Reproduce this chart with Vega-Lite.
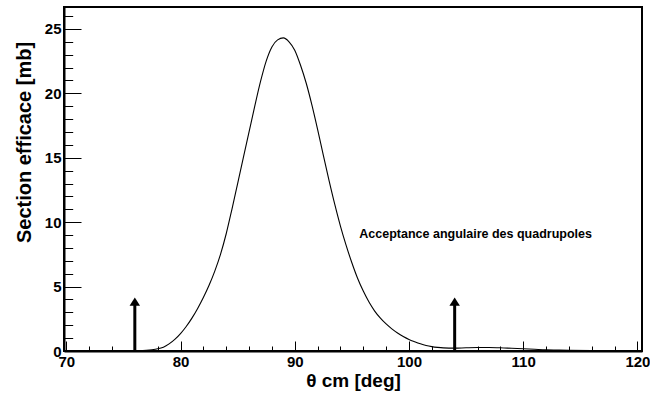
{
  "$schema": "https://vega.github.io/schema/vega-lite/v6.json",
  "width": 578,
  "height": 344,
  "autosize": {"type": "none"},
  "padding": {"left": 64, "top": 7, "right": 8, "bottom": 45},
  "background": "white",
  "config": {
    "view": {"stroke": "black", "strokeWidth": 2},
    "font": "Liberation Sans"
  },
  "datasets": {
    "curve": [
      {"theta": 74.0, "sigma": 0.0},
      {"theta": 75.0, "sigma": 0.01},
      {"theta": 76.0, "sigma": 0.03},
      {"theta": 77.0, "sigma": 0.06},
      {"theta": 77.5, "sigma": 0.1},
      {"theta": 78.0, "sigma": 0.17},
      {"theta": 78.5, "sigma": 0.3},
      {"theta": 79.0, "sigma": 0.55},
      {"theta": 79.5, "sigma": 0.9},
      {"theta": 80.0, "sigma": 1.35},
      {"theta": 80.5, "sigma": 1.9},
      {"theta": 81.0, "sigma": 2.55},
      {"theta": 81.5, "sigma": 3.3},
      {"theta": 82.0, "sigma": 4.15},
      {"theta": 82.5, "sigma": 5.1},
      {"theta": 83.0, "sigma": 6.2},
      {"theta": 83.5, "sigma": 7.5},
      {"theta": 84.0, "sigma": 9.1},
      {"theta": 84.5, "sigma": 11.0},
      {"theta": 85.0, "sigma": 13.0},
      {"theta": 85.5, "sigma": 15.0},
      {"theta": 86.0, "sigma": 17.0},
      {"theta": 86.5, "sigma": 19.0},
      {"theta": 87.0, "sigma": 20.9},
      {"theta": 87.5, "sigma": 22.5},
      {"theta": 88.0, "sigma": 23.6},
      {"theta": 88.5, "sigma": 24.15},
      {"theta": 89.0, "sigma": 24.3},
      {"theta": 89.5, "sigma": 24.0},
      {"theta": 90.0, "sigma": 23.35},
      {"theta": 90.5, "sigma": 22.2},
      {"theta": 91.0, "sigma": 20.8},
      {"theta": 91.5, "sigma": 19.1},
      {"theta": 92.0, "sigma": 17.2},
      {"theta": 92.5, "sigma": 15.2},
      {"theta": 93.0, "sigma": 13.25},
      {"theta": 93.5, "sigma": 11.4},
      {"theta": 94.0, "sigma": 9.7},
      {"theta": 94.5, "sigma": 8.2},
      {"theta": 95.0, "sigma": 6.85},
      {"theta": 95.5, "sigma": 5.65},
      {"theta": 96.0, "sigma": 4.65},
      {"theta": 96.5, "sigma": 3.8},
      {"theta": 97.0, "sigma": 3.1},
      {"theta": 97.5, "sigma": 2.55},
      {"theta": 98.0, "sigma": 2.1},
      {"theta": 98.5, "sigma": 1.72},
      {"theta": 99.0, "sigma": 1.4},
      {"theta": 99.5, "sigma": 1.13},
      {"theta": 100.0, "sigma": 0.9},
      {"theta": 100.5, "sigma": 0.72},
      {"theta": 101.0, "sigma": 0.56},
      {"theta": 101.5, "sigma": 0.43},
      {"theta": 102.0, "sigma": 0.34},
      {"theta": 102.5, "sigma": 0.28},
      {"theta": 103.0, "sigma": 0.24},
      {"theta": 104.0, "sigma": 0.22},
      {"theta": 105.0, "sigma": 0.25},
      {"theta": 106.0, "sigma": 0.27},
      {"theta": 107.0, "sigma": 0.27},
      {"theta": 108.0, "sigma": 0.25},
      {"theta": 109.0, "sigma": 0.21},
      {"theta": 110.0, "sigma": 0.17},
      {"theta": 111.0, "sigma": 0.13},
      {"theta": 112.0, "sigma": 0.09},
      {"theta": 113.0, "sigma": 0.07},
      {"theta": 114.0, "sigma": 0.05},
      {"theta": 116.0, "sigma": 0.03},
      {"theta": 118.0, "sigma": 0.02},
      {"theta": 120.0, "sigma": 0.0}
    ],
    "arrows": [
      {"theta": 76, "sigma": 0, "top": 3.6},
      {"theta": 104, "sigma": 0, "top": 3.6}
    ],
    "heads": [
      {"theta": 76, "sigma": 3.75},
      {"theta": 104, "sigma": 3.75}
    ],
    "note": [
      {"theta": 95.65, "sigma": 8.77, "text": "Acceptance angulaire des quadrupoles"}
    ]
  },
  "encoding": {
    "x": {
      "field": "theta",
      "type": "quantitative",
      "scale": {"domain": [69.8, 120.4], "nice": false, "zero": false},
      "axis": {
        "values": [70, 72, 74, 76, 78, 80, 82, 84, 86, 88, 90, 92, 94, 96, 98, 100, 102, 104, 106, 108, 110, 112, 114, 116, 118, 120],
        "labelExpr": "datum.value % 10 === 0 ? datum.label : ''",
        "tickSize": {"condition": {"test": "datum.value % 10 === 0", "value": -10}, "value": -5},
        "tickColor": "black",
        "tickWidth": 1,
        "domainColor": "black",
        "domainWidth": 2,
        "grid": false,
        "labelFont": "Liberation Sans",
        "labelFontWeight": "bold",
        "labelFontSize": 15,
        "labelColor": "black",
        "labelPadding": 13,
        "labelFlush": false,
        "labelOverlap": false,
        "labelBound": false,
        "title": "θ cm [deg]",
        "titleFont": "Liberation Sans",
        "titleFontSize": 19,
        "titleFontWeight": "bold",
        "titleColor": "black",
        "titleX": 289,
        "titleY": 35,
        "titleAlign": "center",
        "titleBaseline": "alphabetic"
      }
    },
    "y": {
      "field": "sigma",
      "type": "quantitative",
      "scale": {"domain": [0, 26.7], "nice": false},
      "axis": {
        "values": [0, 1, 2, 3, 4, 5, 6, 7, 8, 9, 10, 11, 12, 13, 14, 15, 16, 17, 18, 19, 20, 21, 22, 23, 24, 25, 26],
        "labelExpr": "datum.value % 5 === 0 ? datum.label : ''",
        "tickSize": {"condition": {"test": "datum.value % 5 === 0", "value": -17}, "value": -8.7},
        "tickColor": "black",
        "tickWidth": 1,
        "domainColor": "black",
        "domainWidth": 2,
        "grid": false,
        "labelFont": "Liberation Sans",
        "labelFontWeight": "bold",
        "labelFontSize": 15,
        "labelColor": "black",
        "labelPadding": 20,
        "labelFlush": false,
        "labelOverlap": false,
        "labelBound": false,
        "title": "Section efficace [mb]",
        "titleFont": "Liberation Sans",
        "titleFontSize": 20,
        "titleFontWeight": "bold",
        "titleColor": "black",
        "titleAngle": -90,
        "titleX": -34,
        "titleY": 135,
        "titleAlign": "center",
        "titleBaseline": "alphabetic"
      }
    }
  },
  "layer": [
    {
      "data": {"name": "curve"},
      "mark": {"type": "line", "color": "black", "strokeWidth": 1.1, "interpolate": "monotone"}
    },
    {
      "data": {"name": "arrows"},
      "mark": {"type": "rule", "color": "black", "strokeWidth": 3},
      "encoding": {
        "y2": {"field": "top"}
      }
    },
    {
      "data": {"name": "heads"},
      "mark": {"type": "point", "shape": "M-1,0.6L0,-1L1,0.6Z", "filled": true, "color": "black", "opacity": 1, "size": 110}
    },
    {
      "data": {"name": "note"},
      "mark": {"type": "text", "align": "left", "baseline": "alphabetic", "font": "Liberation Sans", "fontWeight": "bold", "fontSize": 12.5, "color": "black"},
      "encoding": {
        "text": {"field": "text"}
      }
    }
  ]
}
